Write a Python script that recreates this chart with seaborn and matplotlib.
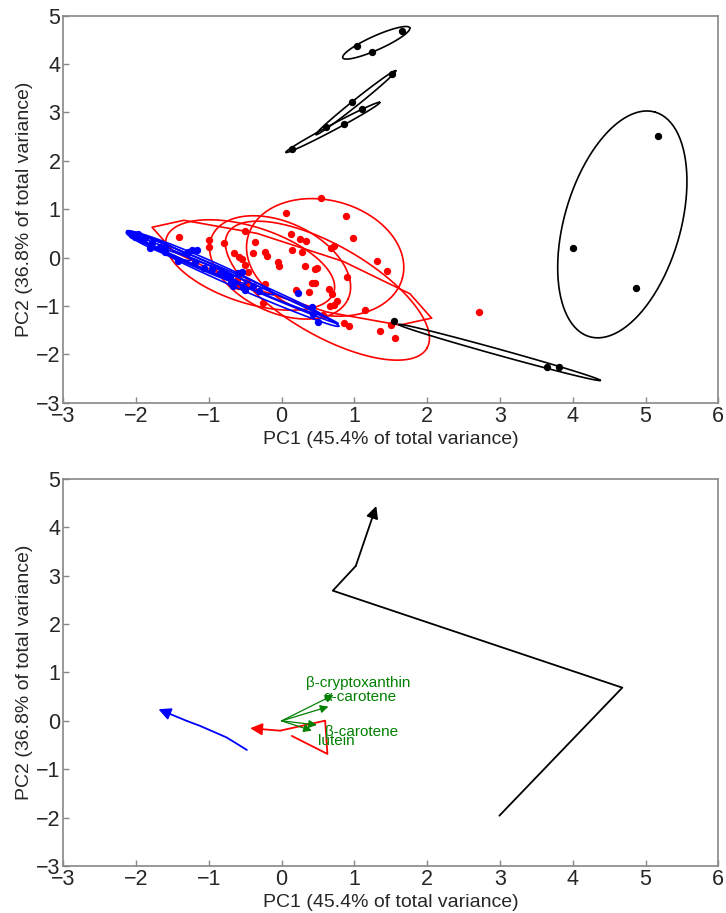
import numpy as np
import pandas as pd
import matplotlib
matplotlib.use("Agg")
import matplotlib.pyplot as plt
import seaborn as sns

# ---------------- data (PC scores) ----------------
black_x = [0.148, 0.607, 0.964, 1.514, 0.859, 1.102, 1.033, 1.243, 1.659,
           5.168, 4.008, 4.865, 1.545, 3.643, 3.812]
black_y = [2.239, 2.694, 3.210, 3.793, 2.760, 3.066, 4.374, 4.244, 4.684,
           2.513, 0.205, -0.622, -1.311, -2.255, -2.255]

red_x = [0.536, 0.062, 0.882, -1.408, -0.501, 0.126, 0.254, 0.334, 0.978, -0.992,
         -1.000, -0.786, -0.371, 0.680, 0.725, 0.148, 0.277, -0.648, -0.580, -0.547,
         -0.398, -0.227, -0.199, -0.055, -0.032, -0.505, 0.323, 0.460, 0.481, 1.308,
         1.445, 0.902, -0.456, 0.419, 0.453, 0.652, 0.698, 0.192, 0.375, 0.762,
         0.659, 0.725, 1.147, -0.250, 0.566, 0.863, 0.931, 1.353, 1.504, 1.559,
         -0.227, -0.731, -0.615, -0.593, -0.478, 2.717]
red_y = [1.226, 0.916, 0.862, 0.420, 0.554, 0.488, 0.378, 0.347, 0.395, 0.364,
         0.225, 0.296, 0.312, 0.205, 0.246, 0.167, 0.122, 0.105, 0.019, -0.035,
         0.089, 0.122, 0.023, -0.091, -0.178, -0.153, -0.180, -0.240, -0.219, -0.064,
         -0.281, -0.397, -0.291, -0.519, -0.519, -0.655, -0.759, -0.674, -0.717, -0.887,
         -1.001, -0.980, -1.073, -0.945, -1.197, -1.346, -1.408, -1.517, -1.400, -1.652,
         -0.552, -0.395, -0.463, -0.587, -0.498, -1.131]

blue_x = [-2.058, -2.012, -1.967, -1.920, -1.875, -1.806, -1.783, -1.669, -1.624, -1.600,
          -1.600, -1.418, -1.280, -1.234, -1.165, -1.188, -1.060, -0.959, -0.845, -0.776,
          -0.707, -0.652, -0.602, -0.538, -0.694, -0.670, -0.525, -0.501, -0.387, -0.309,
          0.223, 0.415, 0.437, 0.505]
blue_y = [0.467, 0.432, 0.488, 0.364, 0.411, 0.192, 0.296, 0.225, 0.192, 0.225,
          0.122, -0.070, 0.122, 0.157, 0.157, -0.085, -0.209, -0.236, -0.325, -0.345,
          -0.395, -0.498, -0.325, -0.304, -0.531, -0.587, -0.602, -0.670, -0.587, -0.684,
          -0.738, -1.025, -1.166, -1.335]

# group ellipses: centre, conjugate semi-diameters u and v (PC units)
black_cx = [2.992, 4.681, 0.703, 1.019, 1.300]
black_cy = [-1.960, 0.686, 2.691, 3.202, 4.440]
black_u = [(1.387, -0.579), (0.451, 2.321), (0.646, 0.517), (0.549, 0.661), (0.460, 0.310)]
black_v = [(-0.011, -0.060), (0.765, -0.335), (0.019, -0.055), (0.026, -0.048), (0.039, -0.132)]

red_cx = [0.140, 0.629, 0.598, -0.021, -0.433]
red_cy = [-0.312, -0.684, 0.004, -0.203, -0.153]
red_u = [(1.920, -0.939), (1.368, -1.189), (1.0615, -0.428), (0.933, -0.656), (1.150, -0.562)]
red_v = [(-0.119, -0.550), (-0.309, -0.806), (-0.203, -1.138), (-0.261, -0.843), (-0.161, -0.747)]
red_npts = [11, 100, 100, 100, 100]

blue_cx = [-0.478, -0.639, -0.762, -1.120, -1.302, -1.692]
blue_cy = [-0.602, -0.451, -0.339, -0.105, -0.002, 0.240]
blue_u = [(1.262, -0.8145), (1.413, -0.912), (1.325, -0.855), (1.010, -0.652), (0.820, -0.529), (0.442, -0.285)]
blue_v = [(-0.027, -0.095), (-0.016, -0.057), (-0.022, -0.076), (-0.033, -0.114), (-0.022, -0.076), (-0.027, -0.095)]

# loadings
load_names = ["β-cryptoxanthin", "α-carotene", "β-carotene", "lutein"]
load_x = [0.712, 0.643, 0.484, 0.415]
load_y = [0.535, 0.294, -0.085, -0.203]
label_x = [1.055, 1.078, 1.102, 0.758]
label_y = [0.790, 0.500, -0.223, -0.416]

xlabel = "PC1 (45.4% of total variance)"
ylabel = "PC2 (36.8% of total variance)"

# ---------------- style ----------------
sns.set_theme(style="white")
plt.rcParams['font.family'] = ['Liberation Sans', 'DejaVu Sans']

fig = plt.figure(figsize=(7.26, 9.13), dpi=100)
ax1 = fig.add_axes([0.0872, 0.5589, 0.9022, 0.4239])
ax2 = fig.add_axes([0.0872, 0.0515, 0.9022, 0.4239])


def ellipse_xy(cx, cy, u, v, n=100):
    t = np.linspace(0, 2 * np.pi, n)
    return (cx + u[0] * np.cos(t) + v[0] * np.sin(t),
            cy + u[1] * np.cos(t) + v[1] * np.sin(t))


lw = 1.2
# red
for cx, cy, u, v, n in zip(red_cx, red_cy, red_u, red_v, red_npts):
    ex, ey = ellipse_xy(cx, cy, u, v, n)
    ax1.plot(ex, ey, color="red", lw=lw)
sns.scatterplot(x=red_x, y=red_y, color="red", s=28, linewidth=0, ax=ax1, zorder=3)
# blue
for cx, cy, u, v in zip(blue_cx, blue_cy, blue_u, blue_v):
    ex, ey = ellipse_xy(cx, cy, u, v)
    ax1.plot(ex, ey, color="blue", lw=lw, zorder=4)
sns.scatterplot(x=blue_x, y=blue_y, color="blue", s=28, linewidth=0, ax=ax1, zorder=5)
# black
for cx, cy, u, v in zip(black_cx, black_cy, black_u, black_v):
    ex, ey = ellipse_xy(cx, cy, u, v)
    ax1.plot(ex, ey, color="black", lw=lw, zorder=6)
sns.scatterplot(x=black_x, y=black_y, color="black", s=28, linewidth=0, ax=ax1, zorder=7)

# ---------------- bottom: centroid trajectories ----------------
def trajectory(ax, xs, ys, color, lw=1.3, ms=18):
    df = pd.DataFrame({"x": xs[:-1], "y": ys[:-1]})
    sns.lineplot(data=df, x="x", y="y", sort=False, estimator=None, color=color, lw=lw, ax=ax)
    ax.annotate("", xy=(xs[-1], ys[-1]), xytext=(xs[-2], ys[-2]),
                arrowprops=dict(arrowstyle="-|>", color=color, lw=lw,
                                mutation_scale=ms, shrinkA=0, shrinkB=0))

trajectory(ax2, black_cx, black_cy, "black")
trajectory(ax2, red_cx, red_cy, "red")
trajectory(ax2, blue_cx, blue_cy, "blue")

for lx, ly in zip(load_x, load_y):
    ax2.annotate("", xy=(lx, ly), xytext=(0, 0),
                 arrowprops=dict(arrowstyle="-|>", color="green", lw=0.9,
                                 mutation_scale=12, shrinkA=0, shrinkB=0))
for name, tx, ty in zip(load_names, label_x, label_y):
    ax2.text(tx, ty, name, color="green", fontsize=11, ha="center", va="center")

for ax in (ax1, ax2):
    ax.set_xlim(-3, 6)
    ax.set_ylim(-3, 5)
    ax.set_xticks(range(-3, 7))
    ax.set_yticks(range(-3, 6))
    ax.set_xlabel(xlabel, fontsize=14, labelpad=3)
    ax.set_ylabel(ylabel, fontsize=14, labelpad=2)
    ax.tick_params(direction="in", length=4, width=1, color="#888888",
                   labelsize=15.5, pad=2, bottom=True, left=True)
    for sp in ax.spines.values():
        sp.set_color("#888888")
        sp.set_linewidth(1.2)

fig.savefig("out.png", dpi=100)
